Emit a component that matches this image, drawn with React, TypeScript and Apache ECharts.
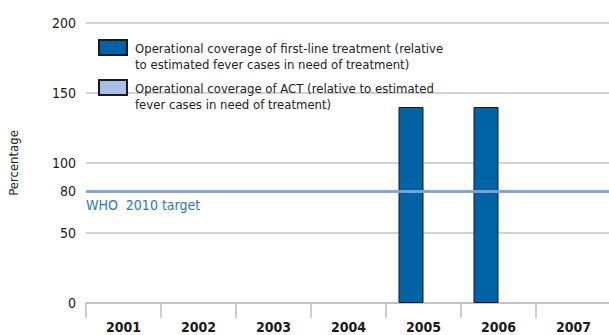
import React, { useEffect, useRef } from "react";
import * as echarts from "echarts";

const categories = ["2001", "2002", "2003", "2004", "2005", "2006", "2007"];
const firstLineCoverage: (number | null)[] = [null, null, null, null, 140, 140, null];
const actCoverage: (number | null)[] = [null, null, null, null, null, null, null];
const targetValue = 80;
const seriesNames = [
  "Operational coverage of first-line treatment (relative\nto estimated fever cases in need of treatment)",
  "Operational coverage of ACT (relative to estimated\nfever cases in need of treatment)",
];

const FONT = "'Liberation Sans Narrow', 'DejaVu Sans Condensed', sans-serif";
// rectangle in the upper half of a taller box, so the swatch lines up with the first text line
const LEGEND_ICON = "path://M0,0L28,0L28,15L0,15Z M0,32L0,32";

export default function App() {
  const ref = useRef<HTMLDivElement>(null);
  useEffect(() => {
    if (!ref.current) return;
    const chart = echarts.init(ref.current, undefined, { renderer: "svg" });
    const legendText = {
      fontFamily: FONT,
      fontSize: 13,
      lineHeight: 16,
      color: "#222",
      padding: [0, 0, 0, 3],
    };
    const legendBase = {
      left: 98,
      padding: 0,
      orient: "vertical",
      itemWidth: 28,
      itemHeight: 32,
      itemGap: 6,
      icon: LEGEND_ICON,
      textStyle: legendText,
    };
    chart.setOption({
      animation: false,
      textStyle: { fontFamily: FONT },
      legend: [
        { ...legendBase, data: [seriesNames[0]], top: 39 },
        { ...legendBase, data: [seriesNames[1]], top: 79 },
      ],
      grid: { left: 86, right: -2, top: 23, bottom: 32, containLabel: false, outerBoundsMode: "none" },
      xAxis: {
        type: "category",
        data: categories,
        boundaryGap: true,
        axisLine: { show: true, lineStyle: { color: "#bdbdbd", width: 1.5 } },
        axisTick: { show: true, length: 15, alignWithLabel: false, lineStyle: { color: "#bdbdbd", width: 1.5 } },
        axisLabel: { fontFamily: FONT, fontSize: 14, fontWeight: "bold", color: "#1a1a1a", margin: 17 },
        splitLine: { show: false },
      },
      yAxis: {
        type: "value",
        min: 0,
        max: 200,
        interval: 50,
        name: "Percentage",
        nameLocation: "middle",
        nameGap: 66,
        nameRotate: 90,
        nameTextStyle: { fontFamily: FONT, fontSize: 13, color: "#222" },
        axisLine: { show: false },
        axisTick: { show: false },
        axisLabel: { fontFamily: FONT, fontSize: 14, color: "#1a1a1a", margin: 10 },
        splitLine: { show: true, lineStyle: { color: "#c4c4c4", width: 1.5 } },
      },
      series: [
        {
          name: seriesNames[0],
          type: "bar",
          data: firstLineCoverage,
          barGap: "0%",
          barCategoryGap: "33.3%",
          itemStyle: { color: "#0063a6", borderColor: "#1a1a1a", borderWidth: 1 },
          markLine: {
            silent: true,
            symbol: "none",
            lineStyle: { color: "#7fa3d6", width: 2.5, type: "solid" },
            data: [
              {
                yAxis: targetValue,
                label: {
                  show: true,
                  position: "start",
                  formatter: String(targetValue),
                  fontFamily: FONT,
                  fontSize: 14,
                  color: "#1a1a1a",
                  distance: 10,
                },
              },
              {
                yAxis: targetValue,
                label: {
                  show: true,
                  position: "insideStartBottom",
                  formatter: "WHO  2010 target",
                  fontFamily: FONT,
                  fontSize: 14,
                  color: "#2a78b8",
                  distance: [0, 7],
                },
              },
            ],
          },
        },
        {
          name: seriesNames[1],
          type: "bar",
          data: actCoverage,
          itemStyle: { color: "#a9c0e6", borderColor: "#1a1a1a", borderWidth: 1 },
        },
      ],
    });
    return () => chart.dispose();
  }, []);
  return <div ref={ref} style={{ width: 609, height: 335, position: "absolute", left: 0, top: 0 }} />;
}
